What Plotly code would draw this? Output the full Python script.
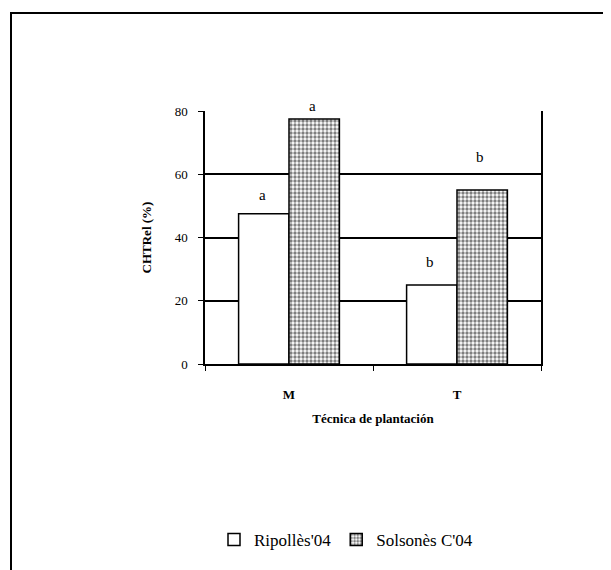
import plotly.graph_objects as go

categories = ["M", "T"]
ripolles = [47.5, 25.0]
solsones = [77.5, 55.0]
letters_ripolles = ["a", "b"]
letters_solsones = ["a", "b"]
y_ticks = [0, 20, 40, 60, 80]

FONT = "Liberation Serif"
W, H = 611, 570
OFF = 8  # page body margin
L, R, T, B = 205 - OFF, 70 + OFF, 111 - OFF, 206 + OFF
pw, ph = W - L - R, H - T - B

fig = go.Figure()
fig.add_trace(go.Bar(
    x=categories, y=ripolles, name="Ripollès'04",
    marker=dict(color="white", line=dict(color="black", width=1.5)),
))
fig.add_trace(go.Bar(
    x=categories, y=solsones, name="Solsonès C'04",
    marker=dict(color="white", line=dict(color="black", width=1.5),
                pattern=dict(shape=".", size=4, solidity=0.55,
                             fgcolor="black", bgcolor="white")),
))

# significance letters
shifts_r = [9, 13]
shifts_s = [3, 23]
for i, c in enumerate(categories):
    fig.add_annotation(x=c, y=ripolles[i], text=letters_ripolles[i], xshift=-27,
                       yshift=shifts_r[i], yanchor="bottom", showarrow=False,
                       font=dict(family=FONT, size=15, color="black"))
    fig.add_annotation(x=c, y=solsones[i], text=letters_solsones[i], xshift=23,
                       yshift=shifts_s[i], yanchor="bottom", showarrow=False,
                       font=dict(family=FONT, size=15, color="black"))

# outer frame (page coords 10,12 -> figure coords 2,4)
fx0, fy0 = 10 - OFF, 12 - OFF
fig.add_shape(type="rect", xref="paper", yref="paper",
              x0=(fx0 + 1 - L) / pw, x1=(W + 20 - L) / pw,
              y0=(H - B - (H + 20)) / ph, y1=(H - B - (fy0 + 1)) / ph,
              line=dict(color="black", width=2), fillcolor="rgba(0,0,0,0)", layer="below")

fig.update_layout(
    width=W, height=H,
    margin=dict(l=L, r=R, t=T, b=B),
    paper_bgcolor="white", plot_bgcolor="white",
    barmode="group", bargap=0.4, bargroupgap=0,
    font=dict(family=FONT, color="black", size=12),
    showlegend=True,
    legend=dict(orientation="h", x=(206 - L) / pw, xanchor="left",
                y=(H - B - (540 - OFF)) / ph, yanchor="middle",
                font=dict(family=FONT, size=17, color="black"),
                itemwidth=30, traceorder="normal", bgcolor="rgba(0,0,0,0)"),
    xaxis=dict(showline=True, linecolor="black", linewidth=1.5, mirror=False,
               ticks="outside", tickson="boundaries", ticklen=5, tickcolor="black",
               ticklabelstandoff=18,
               tickfont=dict(family=FONT, size=13, color="black", weight="bold"),
               title=dict(text="Técnica de plantación", standoff=13,
                          font=dict(family=FONT, size=13, color="black", weight="bold")),
               showgrid=False),
    yaxis=dict(range=[0, 80], tickvals=y_ticks, showline=True, linecolor="black",
               linewidth=1.5, mirror=True, ticks="outside", ticklen=5, tickcolor="black",
               ticklabelstandoff=8,
               tickfont=dict(family=FONT, size=13, color="black"),
               showgrid=True, gridcolor="black", gridwidth=1.5, zeroline=False,
               title=dict(text="CHTRel (%)", standoff=20,
                          font=dict(family=FONT, size=13, color="black", weight="bold"))),
)

fig.write_html("out.html")
